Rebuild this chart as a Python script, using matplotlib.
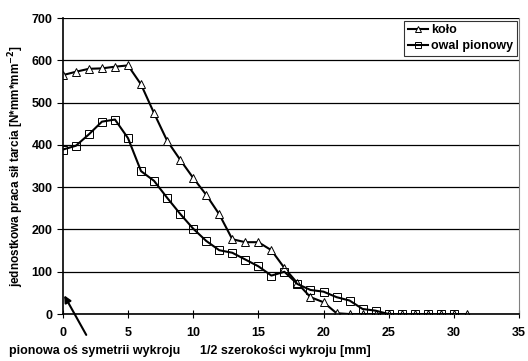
import matplotlib.pyplot as plt

plt.rcParams['font.family'] = ['Liberation Sans', 'DejaVu Sans']
plt.rcParams['font.weight'] = 'bold'

x_kolo = list(range(0, 32))
kolo = [565, 573, 580, 581, 585, 588, 543, 475, 410, 365, 322, 282, 236, 177,
        170, 170, 151, 109, 73, 40, 28, 2, 0, 0, 0, 0, 0, 0, 0, 0, 0, 0]
x_owal = list(range(0, 31))
owal = [389, 398, 425, 455, 460, 416, 338, 315, 275, 237, 202, 173, 151, 145,
        129, 113, 91, 100, 71, 57, 53, 40, 32, 12, 8, 0, 0, 0, 0, 0, 0]

fig = plt.figure(figsize=(5.28, 3.61), dpi=100)
ax = fig.add_axes([0.119, 0.130, 0.864, 0.820])

ax.plot(x_kolo, kolo, color='black', lw=1.5, marker='^', ms=6,
        mfc='white', mec='black', mew=0.7, label='koło')
ax.plot(x_owal, owal, color='black', lw=1.5, marker='s', ms=5.5,
        mfc='none', mec='black', mew=0.7, label='owal pionowy')

ax.set_xlim(0, 35)
ax.set_ylim(0, 700)
ax.set_xticks(range(0, 36, 5))
ax.set_yticks(range(0, 701, 100))
ax.yaxis.grid(True, color='black', lw=0.9)
ax.set_axisbelow(True)
ax.tick_params(axis='x', direction='inout', length=6, labelsize=9, pad=6)
ax.tick_params(axis='y', direction='out', length=4, labelsize=9)
for lab in ax.get_xticklabels() + ax.get_yticklabels():
    lab.set_fontweight('bold')

ax.spines['top'].set_visible(False)
ax.spines['right'].set_color('gray')
ax.spines['left'].set_linewidth(1.2)
ax.spines['bottom'].set_linewidth(1.2)

ax.set_ylabel('jednostkowa praca sił tarcia [N*mm*mm$^{\\mathbf{-2}}$]',
              fontsize=8.5, fontweight='bold', labelpad=4)
fig.text(0.378, 0.02, '1/2 szerokości wykroju [mm]', fontsize=9,
         fontweight='bold')
fig.text(0.017, 0.02, 'pionowa oś symetrii wykroju', fontsize=9,
         fontweight='bold')

ax.annotate('', xy=(0, 50), xytext=(1.9, -55),
            arrowprops=dict(arrowstyle='-|>', color='black', lw=1.5,
                            mutation_scale=10),
            annotation_clip=False)

leg = ax.legend(loc='upper right', fontsize=9, frameon=True, fancybox=False,
                handlelength=1.6, handletextpad=0.2, borderpad=0.3,
                labelspacing=0.3, borderaxespad=0.2, markerscale=0.8)
leg.get_frame().set_edgecolor('black')
leg.get_frame().set_linewidth(0.8)
for t in leg.get_texts():
    t.set_fontweight('bold')

fig.savefig('out.png', dpi=100)
